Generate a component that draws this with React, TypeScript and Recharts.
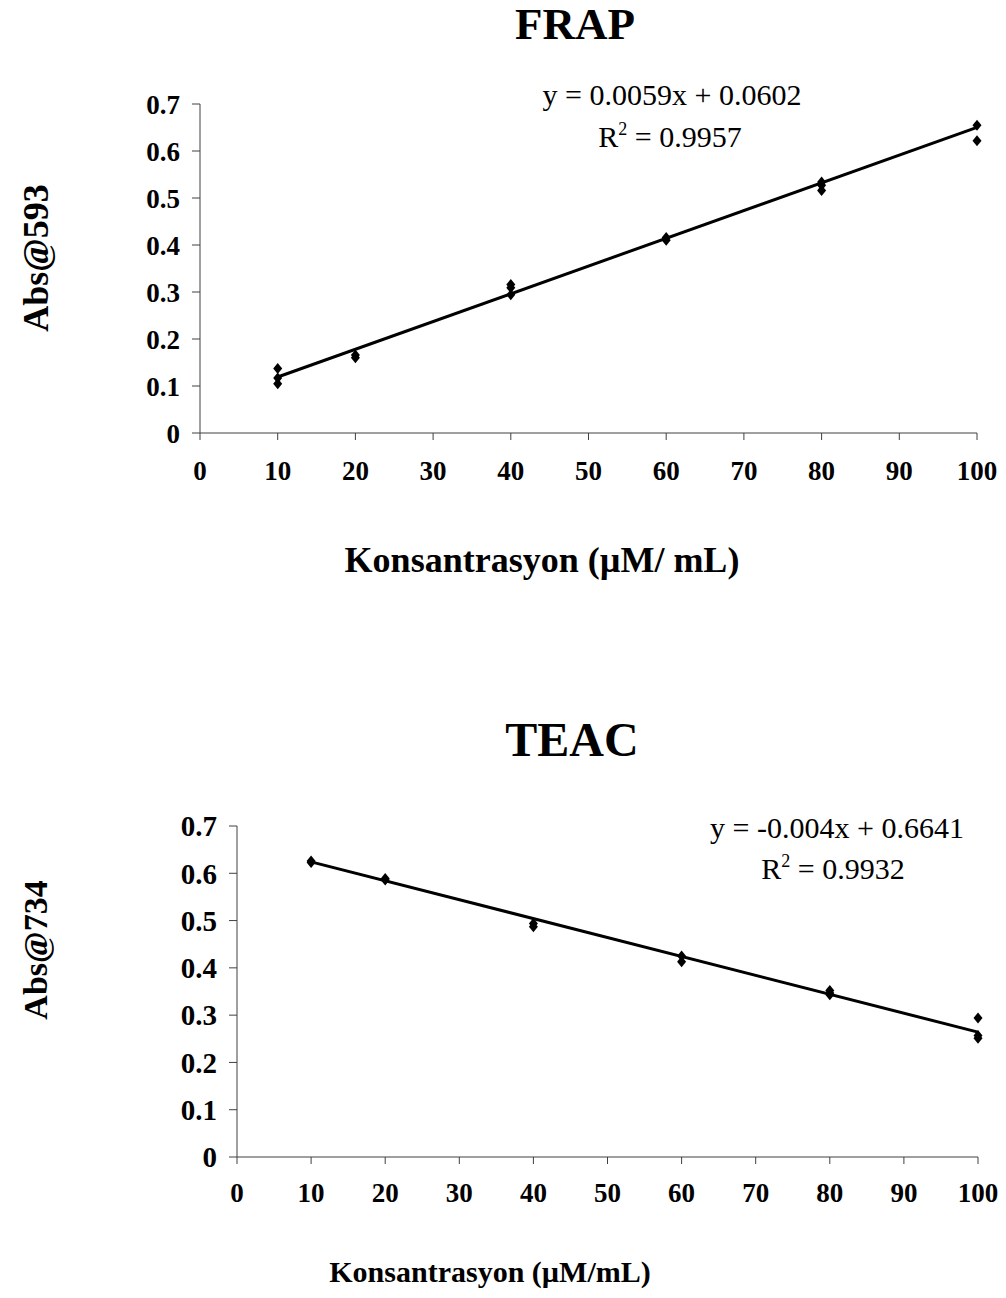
import { ScatterChart, Scatter, XAxis, YAxis } from 'recharts'

const xTicks = [0, 10, 20, 30, 40, 50, 60, 70, 80, 90, 100]
const yTicks = [0, 0.1, 0.2, 0.3, 0.4, 0.5, 0.6, 0.7]

// FRAP measurements
const frapConc = [10, 10, 10, 20, 20, 40, 40, 40, 60, 60, 80, 80, 80, 100, 100]
const frapAbs = [0.137, 0.117, 0.105, 0.166, 0.160, 0.316, 0.309, 0.294, 0.416, 0.410, 0.534, 0.527, 0.516, 0.655, 0.622]
const frapTrendX = [10, 100]
const frapTrendY = [0.1192, 0.6502]

// TEAC measurements
const teacConc = [10, 10, 20, 20, 40, 40, 60, 60, 80, 80, 80, 100, 100, 100]
const teacAbs = [0.626, 0.623, 0.589, 0.586, 0.494, 0.487, 0.425, 0.413, 0.352, 0.347, 0.343, 0.294, 0.257, 0.251]
const teacTrendX = [10, 100]
const teacTrendY = [0.6241, 0.2641]

const zip = (xs: number[], ys: number[]) => xs.map((x, i) => ({ x, y: ys[i] }))

const SERIF = '"Liberation Serif", "Times New Roman", serif'
const AXIS = '#404040'

const Diamond = (p: any) => {
  const { cx, cy } = p
  if (cx == null || cy == null) return null
  return <path d={`M${cx},${cy - 5.5}L${cx + 4.5},${cy}L${cx},${cy + 5.5}L${cx - 4.5},${cy}Z`} fill="#000" />
}

const NoDot = () => null

function Txt({ x, y, size, bold, rotate, children }: any) {
  return (
    <div style={{
      position: 'absolute', left: x, top: y, whiteSpace: 'nowrap',
      transform: `translate(-50%, -50%)${rotate ? ' rotate(-90deg)' : ''}`,
      fontFamily: SERIF, fontSize: size, fontWeight: bold ? 'bold' : 'normal',
      lineHeight: 1, color: '#000',
    }}>{children}</div>
  )
}

interface PanelProps {
  top: number
  height: number
  margin: { top: number; right: number; left: number; bottom: number }
  points: { x: number; y: number }[]
  trend: { x: number; y: number }[]
  yFont: number
  xMargin: number
}

function Panel({ top, height, margin, points, trend, yFont, xMargin }: PanelProps) {
  return (
    <div style={{ position: 'absolute', left: 0, top }}>
      <ScatterChart width={1006} height={height} margin={margin}>
        <XAxis
          type="number" dataKey="x" domain={[0, 100]} ticks={xTicks} interval={0}
          height={40} stroke={AXIS} tickSize={7} tickMargin={xMargin}
          tick={{ fontSize: 27, fontWeight: 'bold', fill: '#000', fontFamily: SERIF }}
        />
        <YAxis
          type="number" dataKey="y" domain={[0, 0.7]} ticks={yTicks} interval={0}
          width={60} stroke={AXIS} tickSize={8} tickMargin={12}
          tick={{ fontSize: yFont, fontWeight: 'bold', fill: '#000', fontFamily: SERIF }}
        />
        <Scatter data={trend} line={{ stroke: '#000', strokeWidth: 3 }} shape={NoDot} isAnimationActive={false} />
        <Scatter data={points} shape={Diamond} isAnimationActive={false} />
      </ScatterChart>
    </div>
  )
}

export default function App() {
  return (
    <div style={{ position: 'absolute', left: 0, top: 0, width: 1006, height: 1298, background: '#fff' }}>
      <Panel
        top={0} height={500}
        margin={{ top: 104, right: 29, left: 140, bottom: 27 }}
        points={zip(frapConc, frapAbs)} trend={zip(frapTrendX, frapTrendY)}
        yFont={27} xMargin={21}
      />
      <Panel
        top={700} height={520}
        margin={{ top: 126, right: 28, left: 177, bottom: 23 }}
        points={zip(teacConc, teacAbs)} trend={zip(teacTrendX, teacTrendY)}
        yFont={29} xMargin={19}
      />

      <Txt x={575} y={24} size={45} bold>FRAP</Txt>
      <Txt x={36} y={258} size={36} bold rotate>Abs@593</Txt>
      <Txt x={542} y={560} size={36} bold>Konsantrasyon (µM/ mL)</Txt>
      <Txt x={672} y={95} size={30}>y = 0.0059x + 0.0602</Txt>
      <Txt x={670} y={136} size={30}>R<sup style={{ fontSize: '0.6em', verticalAlign: '0.7em' }}>2</sup> = 0.9957</Txt>

      <Txt x={572} y={740} size={48} bold>TEAC</Txt>
      <Txt x={36} y={950} size={34} bold rotate>Abs@734</Txt>
      <Txt x={490} y={1272} size={30} bold>Konsantrasyon (µM/mL)</Txt>
      <Txt x={837} y={828} size={30}>y = -0.004x + 0.6641</Txt>
      <Txt x={833} y={868} size={30}>R<sup style={{ fontSize: '0.6em', verticalAlign: '0.7em' }}>2</sup> = 0.9932</Txt>
    </div>
  )
}
